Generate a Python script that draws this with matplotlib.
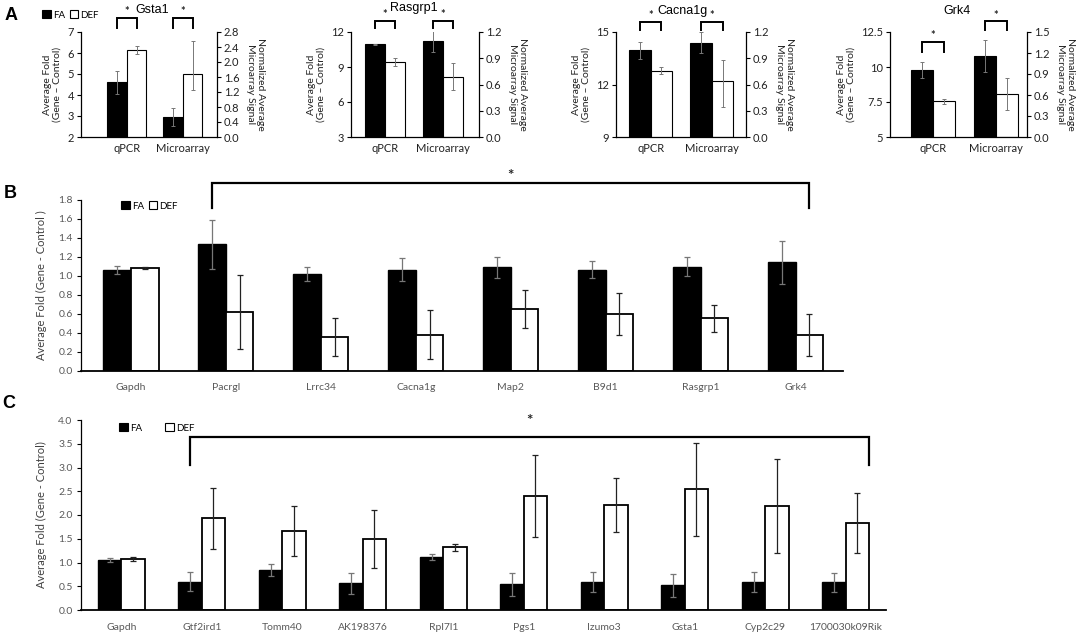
import numpy as np
import matplotlib
matplotlib.use('Agg')
import matplotlib.pyplot as plt
from matplotlib.patches import Patch
from matplotlib.ticker import MultipleLocator, FormatStrFormatter
import matplotlib.transforms as mtransforms

plt.rcParams['font.family'] = ['Lato', 'DejaVu Sans']

# ---- Panel A: qPCR (left axis) vs microarray (right axis) ----
a_genes = ['Gsta1', 'Rasgrp1', 'Cacna1g', 'Grk4']
a_methods = ['qPCR', 'Microarray']
qpcr_fa = [4.6, 10.95, 13.95, 9.8]
qpcr_fa_err = [0.55, 0.05, 0.5, 0.55]
qpcr_def = [6.15, 9.4, 12.8, 7.55]
qpcr_def_err = [0.2, 0.35, 0.2, 0.2]
micro_fa = [0.53, 1.095, 1.075, 1.16]
micro_fa_err = [0.24, 0.12, 0.12, 0.23]
micro_def = [1.68, 0.69, 0.635, 0.61]
micro_def_err_lo = [0.42, 0.155, 0.29, 0.23]
micro_def_err_hi = [0.87, 0.155, 0.25, 0.23]

# ---- Panel B ----
b_genes = ['Gapdh', 'Pacrgl', 'Lrrc34', 'Cacna1g', 'Map2', 'B9d1', 'Rasgrp1', 'Grk4']
b_fa = [1.06, 1.33, 1.02, 1.065, 1.09, 1.065, 1.095, 1.14]
b_fa_err = [0.045, 0.26, 0.075, 0.12, 0.11, 0.09, 0.1, 0.225]
b_def = [1.08, 0.62, 0.36, 0.38, 0.65, 0.6, 0.55, 0.38]
b_def_err = [0.01, 0.39, 0.2, 0.26, 0.2, 0.22, 0.145, 0.22]

# ---- Panel C ----
c_genes = ['Gapdh', 'Gtf2ird1', 'Tomm40', 'AK198376', 'Rpl7l1', 'Pgs1',
           'Izumo3', 'Gsta1', 'Cyp2c29', '1700030k09Rik']
c_fa = [1.06, 0.6, 0.85, 0.56, 1.11, 0.54, 0.585, 0.52, 0.585, 0.58]
c_fa_err = [0.04, 0.21, 0.125, 0.22, 0.06, 0.24, 0.21, 0.24, 0.21, 0.2]
c_def = [1.08, 1.93, 1.66, 1.49, 1.32, 2.4, 2.21, 2.54, 2.19, 1.84]
c_def_err = [0.04, 0.64, 0.52, 0.61, 0.08, 0.87, 0.56, 0.98, 0.98, 0.63]

W, H = 1084, 634
fig = plt.figure(figsize=(W / 100, H / 100), dpi=100)


def box(x0, x1, y0, y1):
    return [x0 / W, 1 - y1 / H, (x1 - x0) / W, (y1 - y0) / H]


def bracket(ax, x0, x1, ytop, ybot, ystar, lw=1.6, star_size=10):
    tr = mtransforms.blended_transform_factory(ax.transData, ax.transAxes)
    ax.plot([x0, x0, x1, x1], [ybot, ytop, ytop, ybot], color='black', lw=lw,
            transform=tr, clip_on=False, solid_joinstyle='miter')
    ax.text((x0 + x1) / 2, ystar, '*', transform=tr, ha='center', va='center',
            fontsize=star_size, color='#222222', fontweight='bold')


GRAY = '#595959'
FA_ERR = '#777777'
DEF_ERR = '#222222'

# panel A layout
a_px = [(81, 217), (351, 479), (616, 746), (890, 1027)]
a_xlims = [(-0.82, 1.61), (-0.59, 1.62), (-0.57, 1.56), (-0.68, 1.49)]
a_left_lim = [(2, 7), (3, 12), (9, 15), (5, 12.5)]
a_left_step = [1, 3, 3, 2.5]
a_right_lim = [(0, 2.8), (0, 1.2), (0, 1.2), (0, 1.5)]
a_right_step = [0.4, 0.3, 0.3, 0.3]
a_title_x = [152, 414, 682, 957]
a_title_py = [10, 8, 11, 11]
# (top, bottom, star) in axes fraction for qPCR / Microarray brackets
a_brk = [[(1.133, 1.038, 1.2), (1.133, 1.038, 1.2)],
         [(1.105, 1.038, 1.17), (1.105, 1.038, 1.17)],
         [(1.095, 1.019, 1.16), (1.095, 1.019, 1.16)],
         [(0.905, 0.81, 0.965), (1.105, 1.019, 1.16)]]
wa = 0.35
xa = np.arange(len(a_methods))
ekw = dict(fmt='none', ecolor=FA_ERR, elinewidth=0.7, capsize=1.5, capthick=0.7)

for i, g in enumerate(a_genes):
    x0, x1 = a_px[i]
    ax = fig.add_axes(box(x0, x1, 32, 137))
    ax2 = ax.twinx()
    ax.set_zorder(ax2.get_zorder() + 1)
    ax.patch.set_visible(False)
    # qPCR on left axis
    ax.bar(xa[0] - wa / 2, qpcr_fa[i], wa, color='black', edgecolor='black', lw=0.8)
    ax.bar(xa[0] + wa / 2, qpcr_def[i], wa, color='white', edgecolor='black', lw=0.8)
    ax.errorbar(xa[0] - wa / 2, qpcr_fa[i], yerr=qpcr_fa_err[i], **ekw)
    ax.errorbar(xa[0] + wa / 2, qpcr_def[i], yerr=qpcr_def_err[i], **ekw)
    # microarray on right axis
    ax2.bar(xa[1] - wa / 2, micro_fa[i], wa, color='black', edgecolor='black', lw=0.8)
    ax2.bar(xa[1] + wa / 2, micro_def[i], wa, color='white', edgecolor='black', lw=0.8)
    ax2.errorbar(xa[1] - wa / 2, micro_fa[i], yerr=micro_fa_err[i], **ekw)
    ax2.errorbar(xa[1] + wa / 2, micro_def[i],
                 yerr=[[micro_def_err_lo[i]], [micro_def_err_hi[i]]], **ekw)
    ax.set_xlim(*a_xlims[i])
    ax.set_ylim(*a_left_lim[i])
    ax2.set_ylim(*a_right_lim[i])
    ax.yaxis.set_major_locator(MultipleLocator(a_left_step[i]))
    ax2.yaxis.set_major_locator(MultipleLocator(a_right_step[i]))
    ax2.yaxis.set_major_formatter(FormatStrFormatter('%.1f'))
    if i == 3:
        ax.set_yticks([5, 7.5, 10, 12.5])
        ax.set_yticklabels(['5', '7.5', '10', '12.5'])
    ax.set_xticks(xa)
    ax.set_xticklabels(a_methods)
    ax.tick_params(axis='x', length=0, pad=4, labelsize=8, labelcolor='#222222')
    ax.tick_params(axis='y', length=3, width=0.8, labelsize=8, labelcolor='#222222', pad=2)
    ax2.tick_params(axis='y', length=3, width=0.8, labelsize=8, labelcolor='#222222', pad=2)
    for s in ['top', 'right']:
        ax.spines[s].set_visible(False)
    for s in ['top', 'left', 'bottom']:
        ax2.spines[s].set_visible(False)
    for sp in [ax.spines['left'], ax.spines['bottom'], ax2.spines['right']]:
        sp.set_linewidth(0.9)
    ax.set_ylabel('Average Fold\n(Gene – Control)', fontsize=7.5, color='#222222',
                  labelpad=4, linespacing=1.1)
    ax2.set_ylabel('Normalized Average\nMicroarray Signal', fontsize=7.5, color='#222222',
                   rotation=270, labelpad=18, linespacing=1.1)
    fig.text(a_title_x[i] / W, 1 - a_title_py[i] / H, g,
             ha='center', va='center', fontsize=9, family='Liberation Sans')
    for j in range(2):
        t, b, st = a_brk[i][j]
        bracket(ax, xa[j] - wa / 2, xa[j] + wa / 2, t, b, st, lw=1.4, star_size=8)

legend_handles = [Patch(facecolor='black', edgecolor='black', lw=0.8),
                  Patch(facecolor='white', edgecolor='black', lw=0.8)]
fig.legend(legend_handles, ['FA', 'DEF'], loc='center left',
           bbox_to_anchor=(42 / W, 1 - 15 / H), ncol=2, frameon=False, fontsize=7,
           handlelength=0.9, handleheight=0.9, handletextpad=0.2, columnspacing=0.5,
           borderpad=0, borderaxespad=0)


def grouped(ax, genes, fa, fa_err, de, de_err, w):
    x = np.arange(len(genes))
    ax.bar(x - w / 2, fa, w, color='black', edgecolor='black', lw=1.0, zorder=2)
    ax.bar(x + w / 2, de, w, color='white', edgecolor='black', lw=1.3, zorder=2)
    ax.errorbar(x - w / 2, fa, yerr=fa_err, fmt='none', ecolor=FA_ERR,
                elinewidth=0.9, capsize=2, capthick=0.9, zorder=3)
    ax.errorbar(x + w / 2, de, yerr=de_err, fmt='none', ecolor=DEF_ERR,
                elinewidth=0.9, capsize=2, capthick=0.9, zorder=3)
    ax.set_xticks(x)
    ax.set_xticklabels(genes)
    ax.tick_params(axis='x', length=0, pad=9, labelsize=7.5, labelcolor=GRAY)
    ax.tick_params(axis='y', length=3, width=0.8, labelsize=7.5, labelcolor=GRAY, pad=3)
    ax.yaxis.set_major_formatter(FormatStrFormatter('%.1f'))
    for s in ['top', 'right']:
        ax.spines[s].set_visible(False)
    ax.spines['left'].set_linewidth(0.9)
    ax.spines['bottom'].set_linewidth(1.3)
    return x


# ---- Panel B ----
wb = 0.29
axb = fig.add_axes(box(81, 843, 199.7, 370.7))
xb = grouped(axb, b_genes, b_fa, b_fa_err, b_def, b_def_err, wb)
axb.set_xlim(-0.527, 7.5)
axb.set_ylim(0, 1.8)
axb.yaxis.set_major_locator(MultipleLocator(0.2))
axb.set_ylabel('Average Fold (Gene - Control )', fontsize=8, color='#404040', labelpad=8)
bracket(axb, xb[1] - wb / 2, xb[-1] + wb / 2, 1.098, 0.95, 1.14, lw=1.6, star_size=11)
fig.legend(legend_handles, ['FA', 'DEF'], loc='center left',
           bbox_to_anchor=(121 / W, 1 - 206 / H), ncol=2, frameon=False, fontsize=7,
           handlelength=0.9, handleheight=0.9, handletextpad=0.2, columnspacing=0.5,
           borderpad=0, borderaxespad=0)

# ---- Panel C ----
wc = 0.29
axc = fig.add_axes(box(81, 886, 420, 610))
xc = grouped(axc, c_genes, c_fa, c_fa_err, c_def, c_def_err, wc)
axc.set_xlim(-0.5, 9.5)
axc.set_ylim(0, 4.0)
axc.yaxis.set_major_locator(MultipleLocator(0.5))
axc.set_ylabel('Average Fold (Gene - Control)', fontsize=8, color='#404040', labelpad=8)
bracket(axc, xc[1] - wc / 2, xc[-1] + wc, 0.912, 0.765, 0.995, lw=1.6, star_size=11)
fig.legend(legend_handles, ['FA', 'DEF'], loc='center left',
           bbox_to_anchor=(119 / W, 1 - 428 / H), ncol=2, frameon=False, fontsize=7,
           handlelength=0.9, handleheight=0.9, handletextpad=0.2, columnspacing=2.4,
           borderpad=0, borderaxespad=0)

# panel letters
for lab, (px, py) in zip('ABC', [(11, 16), (10, 193), (9, 404)]):
    fig.text(px / W, 1 - py / H, lab, fontsize=13, fontweight='bold',
             family='Liberation Sans', ha='center', va='center')

fig.savefig('out.png', dpi=100)
